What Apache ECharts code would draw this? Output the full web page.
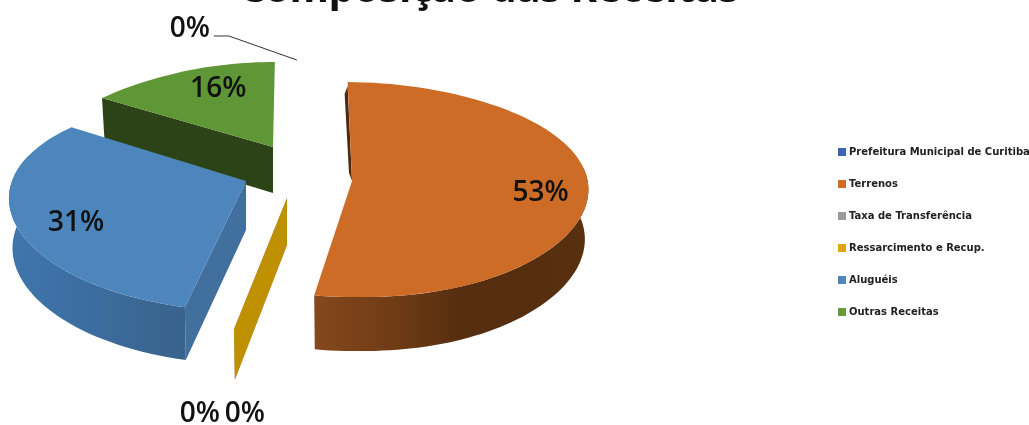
<!DOCTYPE html>
<html>
<head>
<meta charset="utf-8">
<style>html,body{margin:0;padding:0;background:#fff}#chart{width:1029px;height:425px}</style>
<script src="https://cdn.jsdelivr.net/npm/echarts@6/dist/echarts.min.js"></script>
</head>
<body>
<div id="chart"></div>
<script>
// Receitas por origem, em percentual do total
const categories = ['Prefeitura Municipal de Curitiba', 'Terrenos', 'Taxa de Transferência', 'Ressarcimento e Recup.', 'Aluguéis', 'Outras Receitas'];
const shares = [0, 53, 0, 0, 31, 16];
const titleText = 'Composição das Receitas';

const legendColors = ['#3f66ad', '#cc6d2c', '#9a9a9a', '#dba90f', '#4f87b8', '#659a3f'];
const topColors = ['#3f66ad', '#cd6c27', '#9a9a9a', '#bf9000', '#4d86bc', '#5f9737'];
const startAngle = -1;

// Projection and explosion of each exploded slice of the tilted pie
const sliceLayout = [
  { cx: 301, cy: 150, rx: 236, ry: 90, px: 0, py: 0, depth: 0, turn: 0, z: 1, tipLabel: [-107, -31], leader: [[-68, -24], [-83, -24]] },
  { cx: 352, cy: 181, rx: 236, ry: 107.5, px: -0.06, py: 0.08, sag: 15, depth: 50, turn: 0, z: 4, lean: -3,
    faces: ['start'], faceColor: '#4f2a0e', labelR: 0.805, labelShift: [0, -7],
    wall: [[0, '#84481c'], [0.3, '#6f3b15'], [0.55, '#552d0f'], [1, '#57300f']] },
  { cx: 287, cy: 198, rx: 236, ry: 107.5, px: 0.1, py: 0.25, depth: 47, turn: 2, z: 2, faces: ['start'], faceColor: '#9a9a9a', tipLabel: [-35, 34] },
  { cx: 287, cy: 198, rx: 236, ry: 107.5, px: 0.1, py: 0.25, depth: 47, turn: 2, z: 3, faces: ['start'], faceColor: '#bf9000', tipLabel: [10, 34] },
  { cx: 246, cy: 181, rx: 234, ry: 107.5, px: 0.165, py: 0.21, depth: 49, turn: 3.2, z: 5,
    faces: ['start'], faceColor: '#41709f', labelR: 0.735, labelShift: [0, 11],
    wall: [[0, '#3f76ad'], [0.5, '#3c6c9f'], [0.85, '#39658f'], [1, '#38638f']] },
  { cx: 273, cy: 147, rx: 236, ry: 95.8, px: 0.25, py: 0.113, depth: 46, turn: 1.6, z: 1,
    faces: ['start'], faceColor: '#2b4316', labelR: 0.63, labelShift: [0, -10] }
];

const rad = d => d * Math.PI / 180;
const total = shares.reduce((a, b) => a + b, 0);

function project(g, deg) {
  const c = Math.cos(rad(deg)), s = Math.sin(rad(deg));
  // sag lowers the right-hand side of a slice, following the camera's off-centre view
  const sag = g.sag && s > 0 ? g.sag * Math.pow(s, 1.5) : 0;
  return [g.cx + g.rx * s * (1 - g.px * c), g.cy - g.ry * c * (1 - g.py * c) + sag];
}
// The underside sits further from the viewer, so it is a little narrower
function lower(g, pt, deg) {
  return [g.cx + (pt[0] - g.cx) * 0.985, pt[1] + g.depth * (1 - 0.08 * Math.cos(rad(deg)))];
}
function arc(a, b, step) {
  const n = Math.max(1, Math.ceil(Math.abs(b - a) / (step || 2)));
  const pts = [];
  for (let i = 0; i <= n; i++) pts.push(a + (b - a) * i / n);
  return pts;
}

function renderSlice(idx) {
  return function (params, api) {
    const value = api.value(0);
    const g = sliceLayout[idx];
    const before = shares.slice(0, idx).reduce((a, b) => a + b, 0);
    const a0 = startAngle + before / total * 360 + g.turn;
    const a1 = a0 + value / total * 360;
    const apex = [g.cx, g.cy];
    const children = [];
    const outerStart = project(g, a0);

    // Radial cut face
    if (g.faces) {
      const pts = g.lean
        ? [[outerStart[0], outerStart[1] + 4], apex, [apex[0] + g.lean, apex[1] - 8], [outerStart[0] + g.lean, outerStart[1] + 12]]
        : [outerStart, apex, [apex[0], apex[1] + g.depth], lower(g, outerStart, a0)];
      children.push({ type: 'polygon', shape: { points: pts }, style: { fill: g.faceColor } });
    }

    // Rim of the slice, visible on the front half only
    if (g.wall) {
      const angs = arc(Math.max(a0, 75), Math.min(a1, 285));
      const top = angs.map(d => project(g, d));
      const bot = angs.map((d, i) => lower(g, top[i], d)).reverse();
      const xs = top.map(p => p[0]);
      children.push({
        type: 'polygon',
        shape: { points: top.concat(bot) },
        style: {
          fill: new echarts.graphic.LinearGradient(
            Math.min.apply(null, xs), 0, Math.max.apply(null, xs), 0,
            g.wall.map(s => ({ offset: s[0], color: s[1] })), true)
        }
      });
    }

    // Top surface
    if (value > 0) {
      const pts = arc(a0, a1).map(d => project(g, d));
      pts.push(apex);
      children.push({ type: 'polygon', shape: { points: pts }, style: { fill: topColors[idx] } });
    }

    // Percentage label
    let lx, ly;
    if (value > 0) {
      const mid = project(g, (a0 + a1) / 2);
      lx = g.cx + (mid[0] - g.cx) * g.labelR + g.labelShift[0];
      ly = g.cy + (mid[1] - g.cy) * g.labelR + g.labelShift[1];
    } else {
      const tip = idx === 0 ? outerStart : lower(g, outerStart, a0);
      lx = tip[0] + g.tipLabel[0];
      ly = tip[1] + g.tipLabel[1];
      if (g.leader) {
        children.push({
          type: 'polyline',
          shape: { points: [tip].concat(g.leader.map(o => [tip[0] + o[0], tip[1] + o[1]])) },
          style: { fill: null, stroke: '#333', lineWidth: 1 }
        });
      }
    }
    children.push({
      type: 'text', z2: 10,
      style: { text: Math.round(value) + '%', x: lx, y: ly, align: 'center', verticalAlign: 'middle', fill: '#111',
        font: '600 28px "Open Sans", sans-serif' }
    });
    return { type: 'group', children };
  };
}

const chart = echarts.init(document.getElementById('chart'), null, { renderer: 'canvas' });
chart.setOption({
  animation: false,
  backgroundColor: '#fff',
  title: {
    text: titleText, left: 484, top: -34, textAlign: 'center',
    textStyle: { fontFamily: '"Noto Sans", sans-serif', fontSize: 40, fontWeight: 'bold', color: '#111' }
  },
  legend: {
    orient: 'vertical', left: 838, top: 146, padding: 0, itemWidth: 8, itemHeight: 8, itemGap: 20,
    icon: 'rect', selectedMode: false, data: categories,
    textStyle: { fontFamily: '"DejaVu Sans", sans-serif', fontSize: 10, fontWeight: 'bold', color: '#222', lineHeight: 12, padding: [0, 0, 0, -2] }
  },
  series: categories.map((name, i) => ({
    type: 'custom',
    name,
    coordinateSystem: 'none',
    silent: true,
    z: sliceLayout[i].z,
    itemStyle: { color: legendColors[i] },
    renderItem: renderSlice(i),
    data: [[shares[i]]]
  }))
});
</script>
</body>
</html>
